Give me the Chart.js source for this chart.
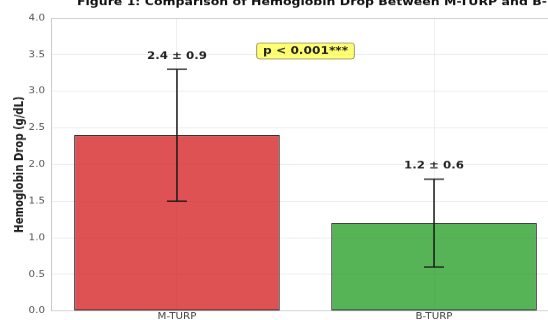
<!DOCTYPE html>
<html>
<head>
<meta charset="utf-8">
<script src="https://cdn.jsdelivr.net/npm/chart.js@4.4.1/dist/chart.umd.min.js"></script>
<style>
  html, body { margin: 0; padding: 0; background: #fff; overflow: hidden; }
  #frame { position: relative; width: 548px; height: 320px; overflow: hidden; background: #fff; }
  #chart { position: absolute; left: 0; top: 0; transform: scaleY(0.855); transform-origin: 0 0; }
</style>
</head>
<body>
<div id="frame"><canvas id="chart" width="600" height="380"></canvas></div>
<script>
// Mean haemoglobin drop (g/dL) with standard deviation per procedure
const categories = ['M-TURP', 'B-TURP'];
const meanDrop = [2.4, 1.2];
const sdDrop = [0.9, 0.6];
const valueLabels = ['2.4 ± 0.9', '1.2 ± 0.6'];
const pValueText = 'p < 0.001***';
const pValueY = 3.55;
const titleText = 'Figure 1: Comparison of Hemoglobin Drop Between M-TURP and B-TURP';
const yAxisTitle = 'Hemoglobin Drop (g/dL)';

const FONT = "'DejaVu Sans', sans-serif";
const barFill = ['rgba(214,39,40,0.8)', 'rgba(44,160,44,0.8)'];

// Title, spines, error bars and annotations
const decorations = {
  id: 'decorations',
  afterDatasetsDraw(chart) {
    const { ctx, chartArea: a, scales: { x, y } } = chart;
    ctx.save();
    // top and right spines
    ctx.strokeStyle = '#cccccc';
    ctx.lineWidth = 1;
    ctx.beginPath();
    ctx.moveTo(a.left, a.top + 0.5);
    ctx.lineTo(a.right, a.top + 0.5);
    ctx.moveTo(a.right - 0.5, a.top);
    ctx.lineTo(a.right - 0.5, a.bottom);
    ctx.stroke();

    // error bars
    ctx.strokeStyle = '#1a1a1a';
    ctx.lineWidth = 1.5;
    categories.forEach((c, i) => {
      const px = x.getPixelForValue(i);
      const yTop = y.getPixelForValue(meanDrop[i] + sdDrop[i]);
      const yBot = y.getPixelForValue(meanDrop[i] - sdDrop[i]);
      ctx.beginPath();
      ctx.moveTo(px, yTop); ctx.lineTo(px, yBot);
      ctx.moveTo(px - 10, yTop); ctx.lineTo(px + 10, yTop);
      ctx.moveTo(px - 10, yBot); ctx.lineTo(px + 10, yBot);
      ctx.stroke();

      ctx.fillStyle = '#222';
      ctx.font = 'bold 11.8px ' + FONT;
      ctx.textAlign = 'center';
      ctx.textBaseline = 'middle';
      ctx.fillText(valueLabels[i], px, yTop - 15.2);
    });

    // significance box
    const bx = x.getPixelForValue(0.5);
    const by = y.getPixelForValue(pValueY);
    ctx.font = 'bold 12.2px ' + FONT;
    const tw = ctx.measureText(pValueText).width;
    const w = tw + 12.6, h = 18.7;
    ctx.beginPath();
    ctx.roundRect(bx - w / 2, by - h / 2, w, h, 3);
    ctx.fillStyle = 'rgba(255,255,0,0.55)';
    ctx.fill();
    ctx.strokeStyle = 'rgba(0,0,0,0.4)';
    ctx.lineWidth = 1;
    ctx.stroke();
    ctx.fillStyle = '#222';
    ctx.textAlign = 'center';
    ctx.textBaseline = 'middle';
    ctx.fillText(pValueText, bx, by + 0.5);

    // figure title
    ctx.font = 'bold 12.5px ' + FONT;
    ctx.fillStyle = '#111';
    ctx.textAlign = 'left';
    ctx.textBaseline = 'alphabetic';
    ctx.fillText(titleText, 77, 6);
    ctx.restore();
  }
};

new Chart(document.getElementById('chart'), {
  type: 'bar',
  data: {
    datasets: [{
      data: categories.map((c, i) => ({ x: i, y: meanDrop[i] })),
      backgroundColor: barFill,
      borderColor: '#262626',
      borderWidth: 1.2,
      borderSkipped: false,
      barPercentage: 0.8,
      categoryPercentage: 1
    }]
  },
  options: {
    responsive: false,
    animation: false,
    devicePixelRatio: 1,
    layout: { padding: { top: 21.05, right: 40, left: 0, bottom: 0 } },
    plugins: { legend: { display: false }, tooltip: { enabled: false }, title: { display: false } },
    scales: {
      x: {
        type: 'linear',
        offset: false,
        min: -0.49,
        max: 1.49,
        afterBuildTicks: s => { s.ticks = categories.map((c, i) => ({ value: i })); },
        afterFit: s => { s.height = 16.3; },
        ticks: {
          autoSkip: false,
          maxRotation: 0,
          padding: 0,
          color: '#444',
          font: { family: FONT, size: 10.3 },
          callback: v => categories[v] ?? ''
        },
        grid: { color: '#ebebeb', lineWidth: 0.8, drawTicks: false, offset: false },
        border: { color: '#cccccc', width: 1 }
      },
      y: {
        min: 0,
        max: 4,
        afterFit: s => { s.width = 51; },
        ticks: {
          stepSize: 0.5,
          padding: 6,
          color: '#555',
          font: { family: FONT, size: 10.3 },
          callback: v => v.toFixed(1)
        },
        grid: { color: '#ebebeb', lineWidth: 1, drawTicks: false },
        border: { color: '#cccccc', width: 1 },
        title: {
          display: true,
          text: yAxisTitle,
          color: '#1a1a1a',
          font: { family: FONT, size: 11.8, weight: 'bold' },
          padding: { top: 12.4, bottom: 0 }
        }
      }
    }
  },
  plugins: [decorations]
});
</script>
</body>
</html>
